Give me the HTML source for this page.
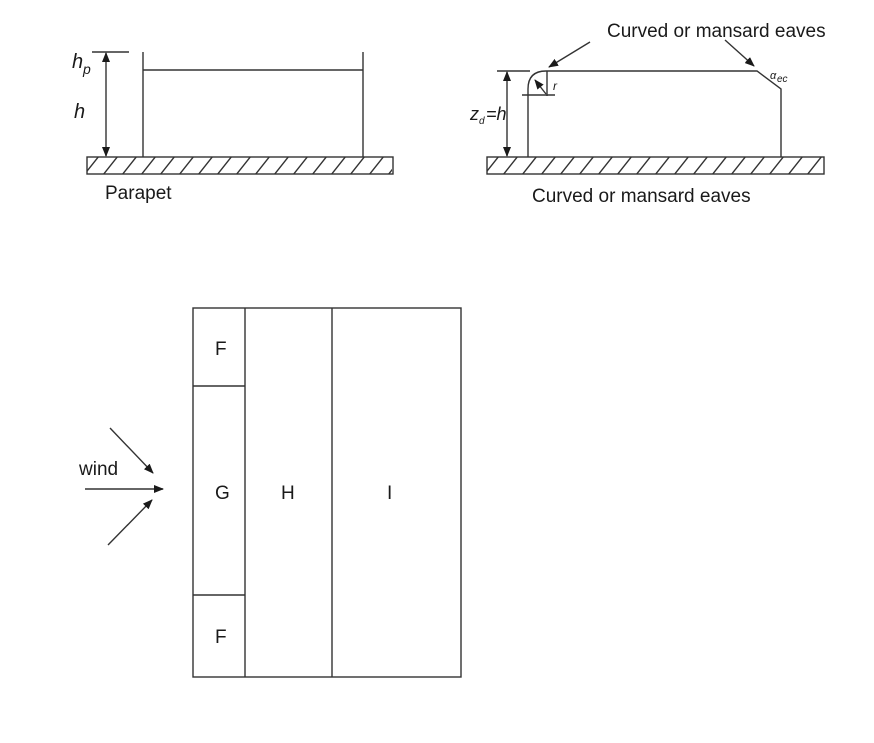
<!DOCTYPE html>
<html><head><meta charset="utf-8"><style>
html,body{margin:0;padding:0;background:#fff;}
svg{display:block}
text{font-family:"Liberation Sans",Arial,sans-serif;fill:#1a1a1a}
</style></head><body>
<svg width="874" height="743" viewBox="0 0 874 743" xmlns="http://www.w3.org/2000/svg">
<defs>
<marker id="ah" markerWidth="10" markerHeight="8" refX="9" refY="4" orient="auto" markerUnits="userSpaceOnUse">
<path d="M0,0 L10,4 L0,8 Z" fill="#1a1a1a"/></marker>
<marker id="ah0" markerWidth="10" markerHeight="8" refX="1" refY="4" orient="auto" markerUnits="userSpaceOnUse">
<path d="M10,0 L0,4 L10,8 Z" fill="#1a1a1a"/></marker>
<clipPath id="c1"><rect x="87" y="157" width="305" height="17"/></clipPath>
<clipPath id="c2"><rect x="487" y="157" width="337" height="17"/></clipPath>
</defs>
<g stroke="#333" stroke-width="1.4" fill="none">
<rect x="87" y="157" width="306" height="17"/>
<g clip-path="url(#c1)">
<path d="M80,180 L103,151 M99,180 L122,151 M118,180 L141,151 M137,180 L160,151 M156,180 L179,151 M175,180 L198,151 M194,180 L217,151 M213,180 L236,151 M232,180 L255,151 M251,180 L274,151 M270,180 L293,151 M289,180 L312,151 M308,180 L331,151 M327,180 L350,151 M346,180 L369,151 M365,180 L388,151 M384,180 L407,151"/>
</g>
<line x1="143" y1="52" x2="143" y2="157"/>
<line x1="363" y1="52" x2="363" y2="157"/>
<line x1="143" y1="70" x2="363" y2="70"/>
<line x1="92" y1="52" x2="129" y2="52"/>
<line x1="106" y1="53" x2="106" y2="156" marker-start="url(#ah0)" marker-end="url(#ah)"/>
<rect x="487" y="157" width="337" height="17"/>
<g clip-path="url(#c2)">
<path d="M480,180 L503,151 M499,180 L522,151 M518,180 L541,151 M537,180 L560,151 M556,180 L579,151 M575,180 L598,151 M594,180 L617,151 M613,180 L636,151 M632,180 L655,151 M651,180 L674,151 M670,180 L693,151 M689,180 L712,151 M708,180 L731,151 M727,180 L750,151 M746,180 L769,151 M765,180 L788,151 M784,180 L807,151 M803,180 L826,151 M822,180 L845,151"/>
</g>
<path d="M528,157 L528,89 Q528,71 546,71 L757,71 L781,89 L781,157"/>
<line x1="497" y1="71" x2="530" y2="71"/>
<line x1="507" y1="72" x2="507" y2="156" marker-start="url(#ah0)" marker-end="url(#ah)"/>
<line x1="547" y1="71" x2="547" y2="96"/>
<line x1="522" y1="95" x2="555" y2="95"/>
<line x1="546" y1="94" x2="535" y2="80" marker-end="url(#ah)"/>
<line x1="590" y1="42" x2="549" y2="67" marker-end="url(#ah)"/>
<line x1="725" y1="40" x2="754" y2="66" marker-end="url(#ah)"/>
<rect x="193" y="308" width="268" height="369"/>
<line x1="245" y1="308" x2="245" y2="677"/>
<line x1="332" y1="308" x2="332" y2="677"/>
<line x1="193" y1="386" x2="245" y2="386"/>
<line x1="193" y1="595" x2="245" y2="595"/>
<line x1="110" y1="428" x2="153" y2="473" marker-end="url(#ah)"/>
<line x1="85" y1="489" x2="163" y2="489" marker-end="url(#ah)"/>
<line x1="108" y1="545" x2="152" y2="500" marker-end="url(#ah)"/>
</g>
<g font-size="19">
<text x="72" y="68" font-style="italic" font-size="20">h</text>
<text x="83" y="74" font-style="italic" font-size="14">p</text>
<text x="74" y="118" font-style="italic" font-size="20">h</text>
<text x="105" y="199">Parapet</text>
<text x="607" y="37">Curved or mansard eaves</text>
<text x="532" y="202">Curved or mansard eaves</text>
<text x="470" y="120" font-style="italic" font-size="18">z</text>
<text x="479" y="124" font-style="italic" font-size="10">d</text>
<text x="486" y="120" font-style="italic" font-size="18">=h</text>
<text x="553" y="90" font-style="italic" font-size="12">r</text>
<text x="770" y="79" font-style="italic" font-size="11">α</text>
<text x="777" y="82" font-style="italic" font-size="10">ec</text>
<text x="215" y="355">F</text>
<text x="215" y="499">G</text>
<text x="281" y="499">H</text>
<text x="387" y="499">I</text>
<text x="215" y="643">F</text>
<text x="79" y="475">wind</text>
</g>
</svg>
</body></html>
